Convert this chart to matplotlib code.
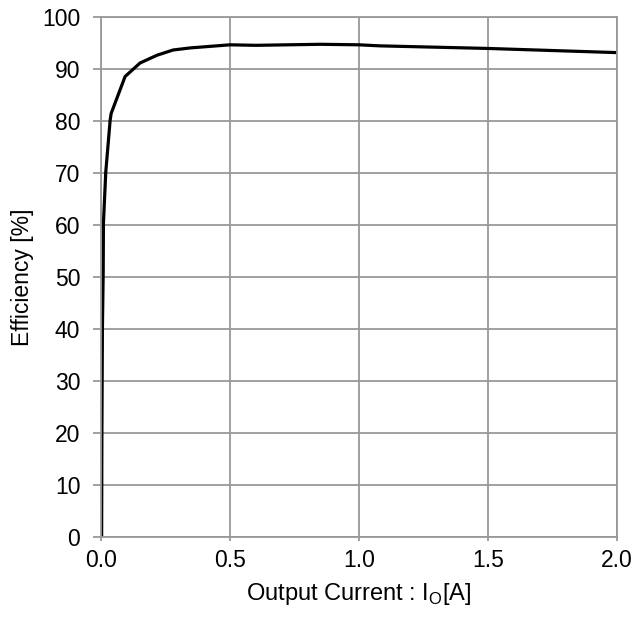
import matplotlib
matplotlib.use("Agg")
import matplotlib.pyplot as plt

# Efficiency curve
current = [0.002, 0.003, 0.005, 0.008, 0.009, 0.018, 0.035, 0.039, 0.093,
           0.151, 0.217, 0.279, 0.345, 0.5, 0.6, 0.85, 1.0, 1.08, 1.5, 2.0]
efficiency = [0.0, 20.0, 40.0, 50.8, 60.4, 70.2, 80.2, 81.5, 88.6,
              91.2, 92.7, 93.7, 94.1, 94.7, 94.6, 94.8, 94.7, 94.5, 94.0, 93.2]

x_ticks = [0.0, 0.5, 1.0, 1.5, 2.0]
y_ticks = list(range(0, 101, 10))

plt.rcParams["font.family"] = ["Liberation Sans", "DejaVu Sans"]

fig = plt.figure(figsize=(6.32, 6.17), dpi=100)
ax = fig.add_axes([0.160, 0.130, 0.816, 0.842])

ax.plot(current, efficiency, color="black", linewidth=2.3, solid_joinstyle="round")

ax.set_xlim(0, 2.0)
ax.set_ylim(0, 100)
ax.set_xticks(x_ticks)
ax.set_xticklabels([f"{t:.1f}" for t in x_ticks])
ax.set_yticks(y_ticks)
ax.grid(True, color="#999999", linewidth=1.3)
ax.set_axisbelow(True)
for s in ax.spines.values():
    s.set_color("#999999")
    s.set_linewidth(1.3)
ax.tick_params(axis="both", labelsize=16.5, color="#999999", width=1.3)
ax.tick_params(axis="y", length=6, pad=9)
ax.tick_params(axis="x", length=3, pad=6)

ax.set_xlabel("Output Current : I$_\\mathregular{O}$[A]", fontsize=17, labelpad=6)
ax.set_ylabel("Efficiency [%]", fontsize=16.5, labelpad=6)

fig.savefig("out.png", dpi=100)
